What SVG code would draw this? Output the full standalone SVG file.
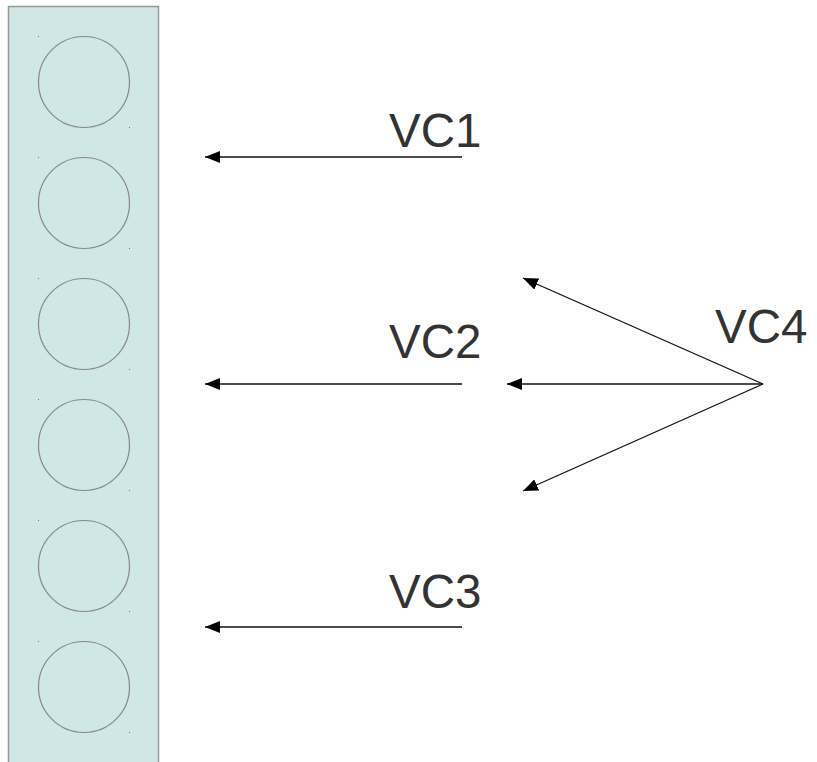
<svg xmlns="http://www.w3.org/2000/svg" width="817" height="762" viewBox="0 0 817 762">
<style>
.slot{fill:none;stroke:#888;stroke-width:1.2}
.dot{fill:#777}
.lbl{font-family:"Liberation Sans",Arial,sans-serif;font-size:47.5px;fill:#333}
.conn{stroke:#111;stroke-width:1.3;fill:none;marker-end:url(#ah)}
</style>
<defs>
<marker id="ah" viewBox="0 0 15 12" refX="15" refY="6" markerWidth="15" markerHeight="12" markerUnits="userSpaceOnUse" orient="auto">
<path d="M0,0 L15,6 L0,12 Z" fill="#000"/>
</marker>
</defs>
<g id="buffer">
<rect x="8.5" y="6.5" width="150" height="770" fill="#cfe7e5" stroke="#999" stroke-width="1.5"/>
<circle class="slot" cx="84" cy="82" r="45.5"/>
<circle class="slot" cx="84" cy="203" r="45.5"/>
<circle class="slot" cx="84" cy="324" r="45.5"/>
<circle class="slot" cx="84" cy="445" r="45.5"/>
<circle class="slot" cx="84" cy="566" r="45.5"/>
<circle class="slot" cx="84" cy="687" r="45.5"/>
<rect class="dot" x="38" y="36" width="1" height="1"/><rect class="dot" x="129" y="127" width="1" height="1"/>
<rect class="dot" x="38" y="157" width="1" height="1"/><rect class="dot" x="129" y="248" width="1" height="1"/>
<rect class="dot" x="38" y="278" width="1" height="1"/><rect class="dot" x="129" y="369" width="1" height="1"/>
<rect class="dot" x="38" y="399" width="1" height="1"/><rect class="dot" x="129" y="490" width="1" height="1"/>
<rect class="dot" x="38" y="520" width="1" height="1"/><rect class="dot" x="129" y="611" width="1" height="1"/>
<rect class="dot" x="38" y="641" width="1" height="1"/><rect class="dot" x="129" y="732" width="1" height="1"/>
</g>
<g id="vc1"><text class="lbl" x="389" y="147">VC1</text></g>
<g id="vc2"><text class="lbl" x="389" y="358">VC2</text></g>
<g id="vc3"><text class="lbl" x="389" y="608">VC3</text></g>
<g id="vc4"><text class="lbl" x="715" y="343">VC4</text></g>
<g id="connectors">
<line class="conn" x1="462" y1="157" x2="205" y2="157"/>
<line class="conn" x1="462" y1="384" x2="205" y2="384"/>
<line class="conn" x1="462" y1="627" x2="205" y2="627"/>
<line class="conn" x1="763" y1="384" x2="523" y2="278"/>
<line class="conn" x1="763" y1="384" x2="507" y2="384"/>
<line class="conn" x1="763" y1="384" x2="523" y2="491"/>
</g>
</svg>
